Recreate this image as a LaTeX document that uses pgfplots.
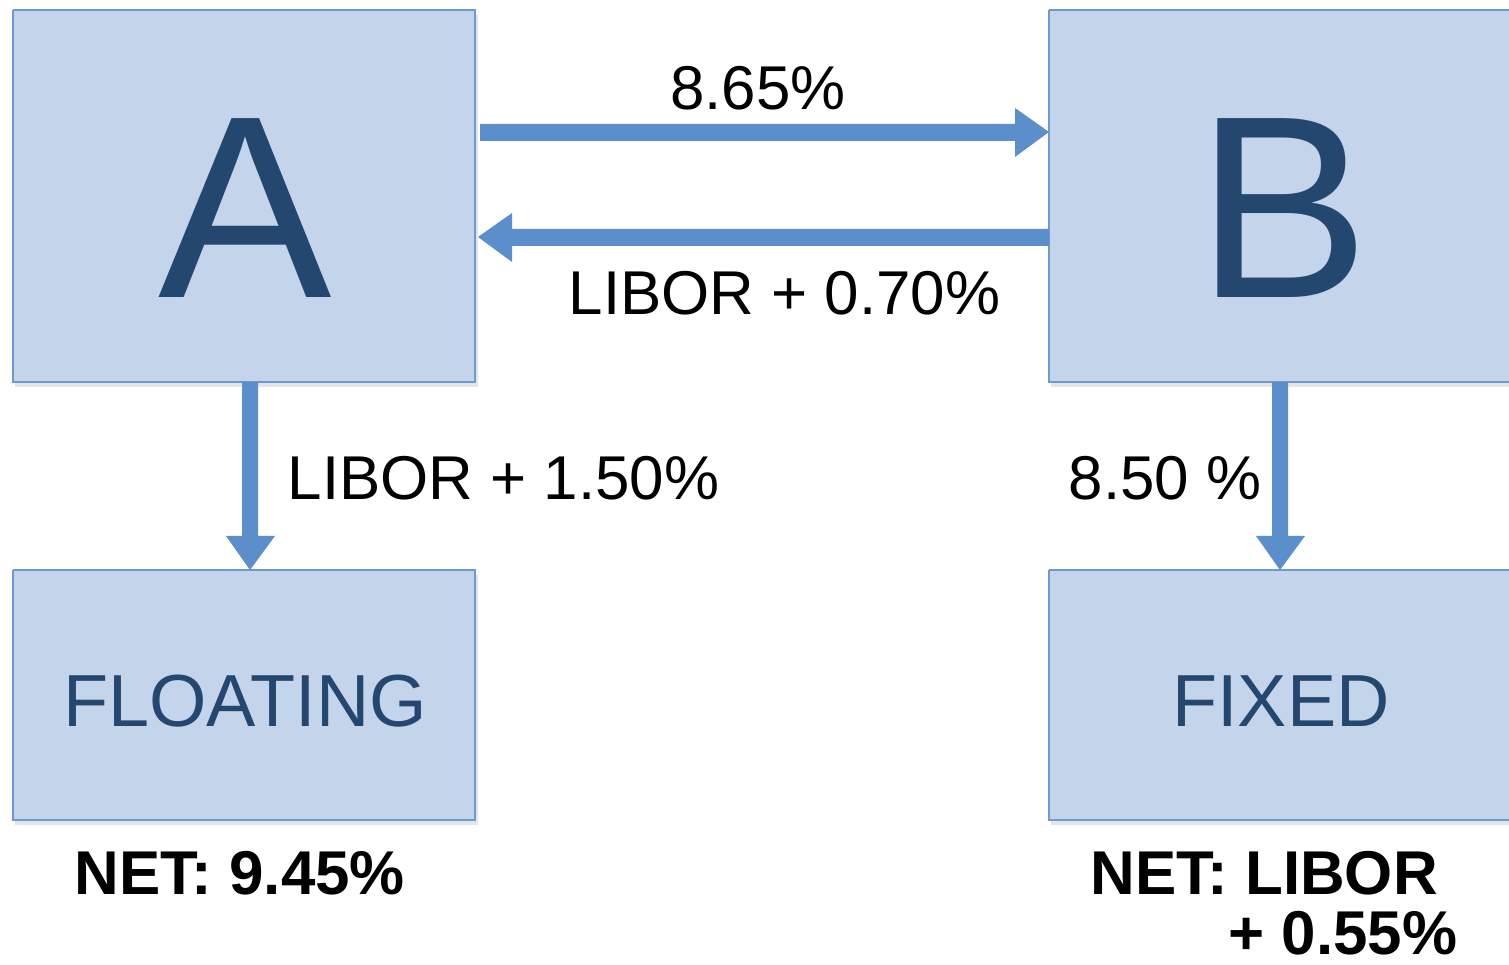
\documentclass[border=0pt]{standalone}
\usepackage{pgfplots}
\pgfplotsset{compat=1.18}
\usepackage{fontspec}
\setmainfont{Liberation Sans}
\definecolor{boxfill}{HTML}{C4D5EB}
\definecolor{boxedge}{HTML}{6D9AD0}
\definecolor{arrowc}{HTML}{5A8FCC}
\definecolor{dark}{HTML}{24476F}
\begin{document}
\begin{tikzpicture}
\useasboundingbox (0,0) rectangle (150.9mm,96.5mm);
\begin{axis}[at={(0,0)}, anchor=south west, scale only axis,
  width=150.9mm, height=96.5mm, xmin=0, xmax=1509, ymin=0, ymax=965,
  y dir=reverse, hide axis, clip=false]
% shadows
\addplot[draw=none, fill=black, fill opacity=0.10] coordinates {(15,15)(478,15)(478,387)(15,387)(15,15)};
\addplot[draw=none, fill=black, fill opacity=0.10] coordinates {(1051,15)(1515,15)(1515,387)(1051,387)(1051,15)};
\addplot[draw=none, fill=black, fill opacity=0.10] coordinates {(15,575)(478,575)(478,825)(15,825)(15,575)};
\addplot[draw=none, fill=black, fill opacity=0.10] coordinates {(1051,575)(1515,575)(1515,825)(1051,825)(1051,575)};
% boxes
\addplot[fill=boxfill, draw=boxedge, line width=0.6pt] coordinates {(13,10)(475,10)(475,382)(13,382)(13,10)};
\addplot[fill=boxfill, draw=boxedge, line width=0.6pt] coordinates {(1049,10)(1515,10)(1515,382)(1049,382)(1049,10)};
\addplot[fill=boxfill, draw=boxedge, line width=0.6pt] coordinates {(13,570)(475,570)(475,820)(13,820)(13,570)};
\addplot[fill=boxfill, draw=boxedge, line width=0.6pt] coordinates {(1049,570)(1515,570)(1515,820)(1049,820)(1049,570)};
% arrows
\addplot[fill=arrowc, draw=none] coordinates {(480,124)(1015,124)(1015,108)(1049,132)(1015,157)(1015,141)(480,141)(480,124)};
\addplot[fill=arrowc, draw=none] coordinates {(1049,229)(512,229)(512,213)(478,237)(512,262)(512,246)(1049,246)(1049,229)};
\addplot[fill=arrowc, draw=none] coordinates {(242,382)(242,536)(226,536)(250,570)(275,536)(258,536)(258,382)(242,382)};
\addplot[fill=arrowc, draw=none] coordinates {(1272,382)(1272,536)(1256,536)(1280,570)(1305,536)(1288,536)(1288,382)(1272,382)};
% letters
\node[anchor=base, inner sep=0, text=dark, font=\fontsize{74}{80}\selectfont] at (axis cs:245,298) {A};
\node[anchor=base, inner sep=0, text=dark, font=\fontsize{74}{80}\selectfont] at (axis cs:1283,298) {B};
\node[anchor=base, inner sep=0, text=dark, font=\fontsize{21}{24}\selectfont] at (axis cs:245,727) {FLOATING};
\node[anchor=base, inner sep=0, text=dark, font=\fontsize{21}{24}\selectfont] at (axis cs:1281,727) {FIXED};
% labels
\node[anchor=base, inner sep=0, font=\fontsize{17.6}{20}\selectfont] at (axis cs:758,110) {8.65\%};
\node[anchor=base west, inner sep=0, font=\fontsize{17.6}{20}\selectfont] at (axis cs:568,315) {LIBOR + 0.70\%};
\node[anchor=base west, inner sep=0, font=\fontsize{17.6}{20}\selectfont] at (axis cs:287,500) {LIBOR + 1.50\%};
\node[anchor=base west, inner sep=0, font=\fontsize{17.6}{20}\selectfont] at (axis cs:1068,500) {8.50 \%};
\node[anchor=base, inner sep=0, font=\bfseries\fontsize{17.6}{20}\selectfont] at (axis cs:240,895) {NET: 9.45\%};
\node[anchor=base west, inner sep=0, font=\bfseries\fontsize{17.6}{20}\selectfont] at (axis cs:1090,895) {NET: LIBOR};
\node[anchor=base east, inner sep=0, font=\bfseries\fontsize{17.6}{20}\selectfont] at (axis cs:1458,955) {+ 0.55\%};
\end{axis}
\end{tikzpicture}
\end{document}
